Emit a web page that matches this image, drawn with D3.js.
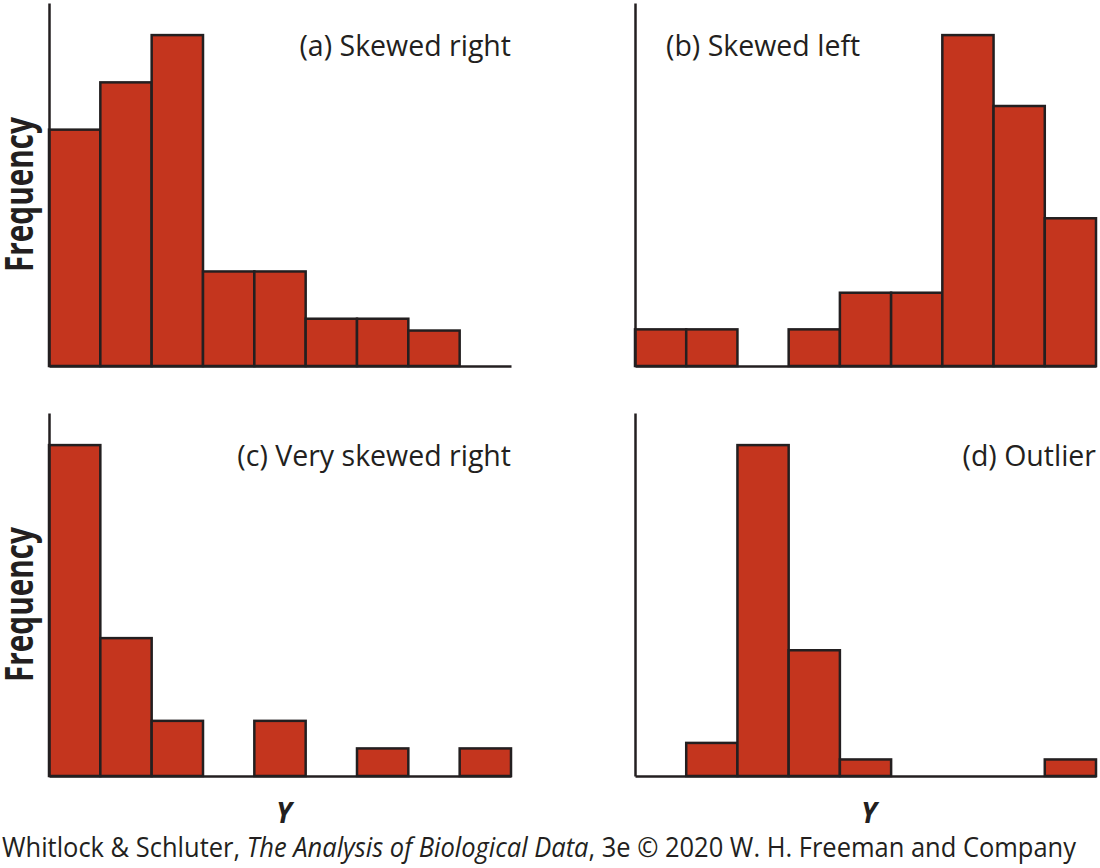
<!DOCTYPE html>
<html>
<head>
<meta charset="utf-8">
<script src="https://cdn.jsdelivr.net/npm/d3@7"></script>
<style>
  body { margin: 0; background: #fff; }
  svg text { fill: #231f20; }
</style>
</head>
<body>
<svg id="chart" width="1100" height="868"></svg>
<script>
// bin counts for each histogram (9 equal bins)
var skewedRight     = [20, 24, 28, 8, 8, 4, 4, 3, 0];
var skewedLeft      = [3.1, 3.1, 0, 3.1, 6.2, 6.2, 28, 22, 12.5];
var verySkewedRight = [12, 5, 2, 0, 2, 0, 1, 0, 1];
var outlier         = [0, 2, 20, 7.6, 1, 0, 0, 0, 1];

var panelTitles = ["(a) Skewed right", "(b) Skewed left", "(c) Very skewed right", "(d) Outlier"];
var yLabel = "Frequency";
var xLabel = "Y";

var svg = d3.select("#chart");
var fill = "#c4351e", ink = "#231f20";

// panel boxes on the page
var panels = [
  {data: skewedRight,     title: panelTitles[0], x0: 49,  x1: 511,  top: 3,   base: 366, tx: 511, anchor: "end"},
  {data: skewedLeft,      title: panelTitles[1], x0: 635, x1: 1096, top: 3,   base: 366, tx: 666, anchor: "start"},
  {data: verySkewedRight, title: panelTitles[2], x0: 49,  x1: 511,  top: 413, base: 776, tx: 511, anchor: "end"},
  {data: outlier,         title: panelTitles[3], x0: 635, x1: 1096, top: 413, base: 776, tx: 1096, anchor: "end"}
];

panels.forEach(function(p) {
  var n = p.data.length;
  var x = d3.scaleLinear().domain([0, n]).range([p.x0, p.x1]);
  // tallest bar fills about 91% of the axis height
  var y = d3.scaleLinear().domain([0, d3.max(p.data) * 1.097]).range([p.base, p.top]);

  var g = svg.append("g");

  g.selectAll("rect")
    .data(p.data.map(function(v, i) { return {i: i, v: v}; }).filter(function(d) { return d.v > 0; }))
    .enter().append("rect")
    .attr("x", function(d) { return x(d.i); })
    .attr("y", function(d) { return y(d.v); })
    .attr("width", function(d) { return x(d.i + 1) - x(d.i); })
    .attr("height", function(d) { return p.base - y(d.v); })
    .attr("fill", fill)
    .attr("stroke", ink)
    .attr("stroke-width", 2.5);

  // axes: just the lines, no ticks
  g.append("g")
    .attr("transform", "translate(0," + p.base + ")")
    .call(d3.axisBottom(x).tickValues([]).tickSizeOuter(0))
    .select(".domain").attr("stroke", ink).attr("stroke-width", 2.5);

  g.append("g")
    .attr("transform", "translate(" + p.x0 + ",0)")
    .call(d3.axisLeft(y).tickValues([]).tickSizeOuter(0))
    .select(".domain").attr("stroke", ink).attr("stroke-width", 2.5);

  g.append("text")
    .attr("x", p.tx)
    .attr("y", p.top + 53)
    .attr("text-anchor", p.anchor)
    .style("font-family", "'Open Sans', sans-serif")
    .style("font-size", "28.5px")
    .text(p.title);
});

// Frequency labels (narrow bold face in the original, so squeeze it)
[195, 605].forEach(function(cy) {
  svg.append("text")
    .attr("transform", "translate(33," + cy + ") rotate(-90)")
    .attr("x", -77)
    .attr("textLength", 155)
    .attr("lengthAdjust", "spacingAndGlyphs")
    .style("font-family", "'Open Sans', sans-serif")
    .style("font-weight", "bold")
    .style("font-size", "40px")
    .text(yLabel);
});

// Y labels
[284, 869].forEach(function(cx) {
  svg.append("text")
    .attr("x", cx)
    .attr("y", 823)
    .attr("text-anchor", "middle")
    .style("font-family", "'Open Sans', sans-serif")
    .style("font-weight", "bold")
    .style("font-style", "italic")
    .style("font-size", "28px")
    .text(xLabel);
});

// credit line
var credit = svg.append("text")
  .attr("x", 2)
  .attr("y", 857)
  .attr("textLength", 1074)
  .attr("lengthAdjust", "spacingAndGlyphs")
  .style("font-family", "'Open Sans', sans-serif")
  .style("font-size", "27.5px");
credit.append("tspan").text("Whitlock & Schluter, ");
credit.append("tspan").style("font-style", "italic").text("The Analysis of Biological Data");
credit.append("tspan").text(", 3e \u00a9 2020 W. H. Freeman and Company");
</script>
</body>
</html>
